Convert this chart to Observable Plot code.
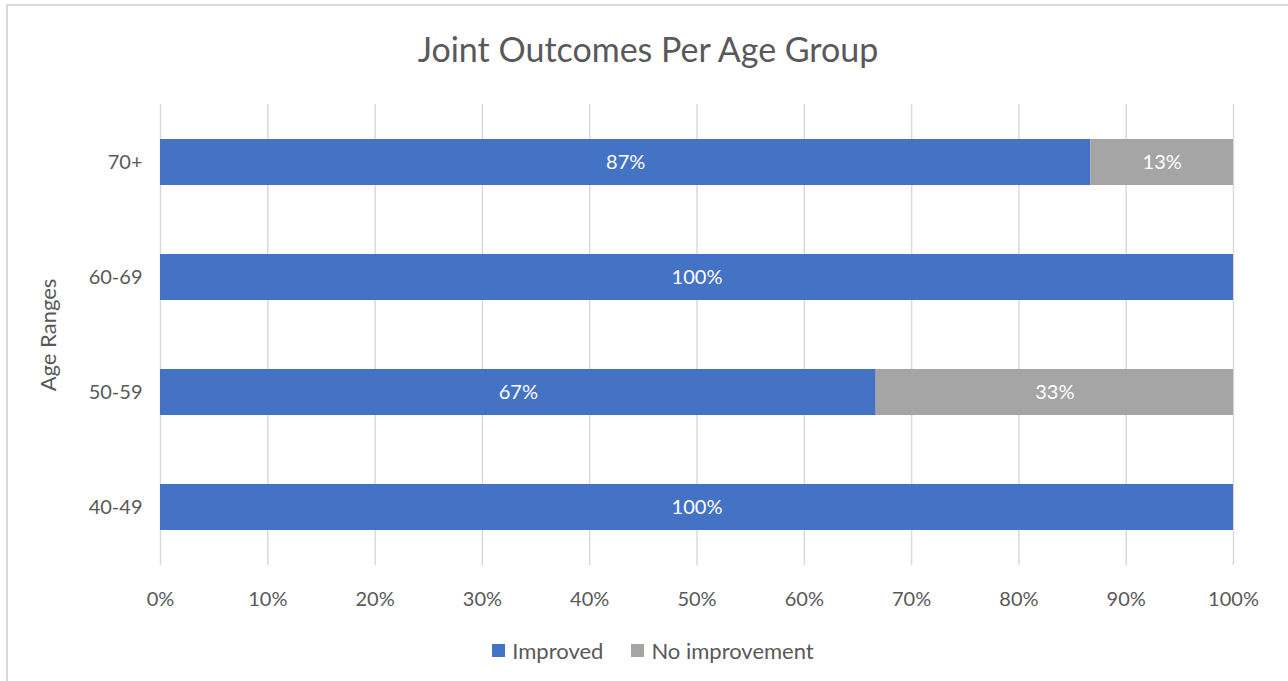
<!DOCTYPE html>
<html>
<head>
<meta charset="utf-8">
<script src="https://cdn.jsdelivr.net/npm/d3@7"></script>
<script src="https://cdn.jsdelivr.net/npm/@observablehq/plot@0.6"></script>
<style>
  html, body { margin: 0; padding: 0; background: #fff; overflow: hidden; }
  body { width: 1288px; height: 681px; position: relative; font-family: Lato, "Open Sans", sans-serif; }
  #frame { position: absolute; left: 6px; top: 4px; width: 1300px; height: 700px; border: 2px solid #d9d9d9; box-sizing: border-box; }
  #title { position: absolute; left: 0; top: 0; width: 1296px; height: 90px; text-align: center; line-height: 98px; font-size: 34px; color: #595959; }
  #chart { position: absolute; left: 0; top: 90px; }
  #legend { position: absolute; left: 0; top: 635px; width: 1306px; text-align: center; font-size: 22px; color: #595959; }
  #legend span.item { display: inline-flex; align-items: center; margin: 0 14px; }
  #legend span.sw { display: inline-block; width: 13px; height: 13px; margin-right: 7px; }
</style>
</head>
<body>
<div id="frame"></div>
<div id="title">Joint Outcomes Per Age Group</div>
<div id="chart"></div>
<div id="legend"></div>
<script>
const ageGroups = ["70+", "60-69", "50-59", "40-49"];
const seriesNames = ["Improved", "No improvement"];
const improved = [86.7, 100, 66.7, 100];
const noImprovement = [13.3, 0, 33.3, 0];
const xTicks = [0, 10, 20, 30, 40, 50, 60, 70, 80, 90, 100];
const colors = ["#4472C4", "#A5A5A5"];
const yTitle = "Age Ranges";

const rows = [];
ageGroups.forEach((g, i) => {
  rows.push({age: g, series: seriesNames[0], value: improved[i]});
  rows.push({age: g, series: seriesNames[1], value: noImprovement[i]});
});
const nonZero = rows.filter(d => d.value > 0);

const plot = Plot.plot({
  width: 1288,
  height: 540,
  marginLeft: 160,
  marginRight: 55,
  marginTop: 14,
  marginBottom: 65,
  style: {fontFamily: "Lato, 'Open Sans', sans-serif", fontSize: "20px", color: "#595959", background: "transparent"},
  x: {domain: [0, 100]},
  y: {domain: ageGroups, paddingInner: 0.6, paddingOuter: 0.3},
  color: {domain: seriesNames, range: colors},
  marks: [
    Plot.ruleX(xTicks, {x: d => d, stroke: "#d9d9d9", strokeWidth: 1.5}),
    Plot.barX(nonZero, Plot.stackX({x: "value", y: "age", z: "series", fill: "series", order: seriesNames})),
    Plot.textX(nonZero, Plot.stackX({x: "value", y: "age", z: "series", order: seriesNames, text: d => Math.round(d.value) + "%", fill: "white", fontSize: 20})),
    Plot.axisX({ticks: xTicks, tickFormat: d => d + "%", tickSize: 0, tickPadding: 26, label: null, fontSize: 20, fill: "#595959"}),
    Plot.axisY({tickSize: 0, tickPadding: 18, label: null, fontSize: 20, fill: "#595959"}),
    Plot.text([yTitle], {frameAnchor: "left", textAnchor: "middle", lineAnchor: "middle", rotate: -90, dx: -112, fontSize: 22, fill: "#595959"})
  ]
});
document.getElementById("chart").appendChild(plot);

const legend = document.getElementById("legend");
seriesNames.forEach((s, i) => {
  const item = document.createElement("span");
  item.className = "item";
  const sw = document.createElement("span");
  sw.className = "sw";
  sw.style.background = colors[i];
  item.appendChild(sw);
  item.appendChild(document.createTextNode(s));
  legend.appendChild(item);
});
</script>
</body>
</html>
